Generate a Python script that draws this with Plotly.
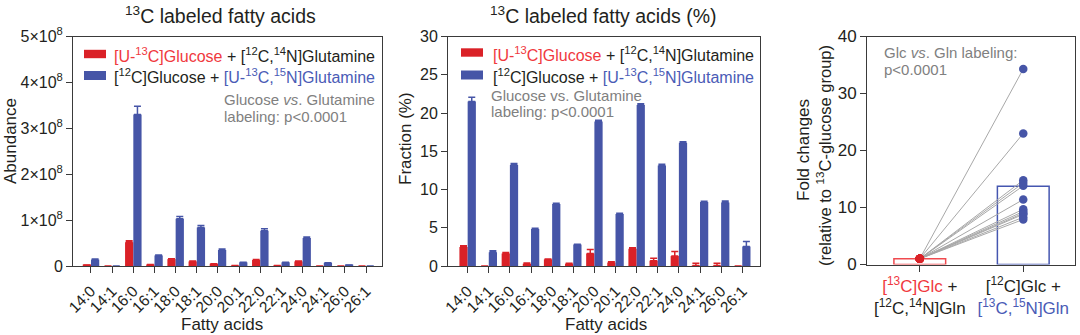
import numpy as np
import plotly.graph_objects as go

# ---------------- data ----------------
fatty_acids = ["14:0", "14:1", "16:0", "16:1", "18:0", "18:1", "20:0",
               "20:1", "22:0", "22:1", "24:0", "24:1", "26:0", "26:1"]

# Abundance
abund_glc = [2e6, 0, 5.2e7, 3e6, 1.5e7, 1.0e7, 5e6, 1e6, 1.3e7, 1e6, 1.0e7, 0, 0, 0]
abund_glc_err = [0, 0, 3e6, 0, 1e6, 1e6, 0, 0, 1e6, 0, 1e6, 0, 0, 0]
abund_gln = [1.4e7, 0, 3.30e8, 2.3e7, 1.03e8, 8.4e7, 3.5e7, 8e6, 7.7e7, 8e6, 6.1e7, 7e6, 2e6, 0]
abund_gln_err = [1e6, 0, 1.8e7, 1e6, 5e6, 4e6, 2e6, 0, 4e6, 0, 2e6, 0, 0, 0]

# Fraction (%)
frac_glc = [2.5, 0, 1.65, 0.3, 0.87, 0.3, 1.65, 0.45, 2.25, 0.7, 1.3, 0.05, 0.05, 0]
frac_glc_err = [0.15, 0, 0.1, 0.1, 0.05, 0.05, 0.5, 0.1, 0.15, 0.3, 0.6, 0.3, 0.3, 0]
frac_gln = [21.5, 1.8, 13.2, 4.85, 8.1, 2.8, 18.9, 6.8, 21.05, 13.15, 16.1, 8.35, 8.3, 2.55]
frac_gln_err = [0.55, 0.2, 0.2, 0.1, 0.1, 0.05, 0.15, 0.1, 0.15, 0.15, 0.15, 0.1, 0.2, 0.65]

# Fold changes (relative to 13C-glucose group)
fold_glc = [1.0] * 12
fold_gln = [34.3, 23.0, 14.8, 14.3, 13.8, 11.4, 9.7, 9.3, 9.0, 8.8, 8.3, 7.9]

abund_ticks = [0, 1e8, 2e8, 3e8, 4e8, 5e8]
abund_ticktext = ["0", "1×10<sup>8</sup>", "2×10<sup>8</sup>", "3×10<sup>8</sup>",
                  "4×10<sup>8</sup>", "5×10<sup>8</sup>"]
frac_ticks = [0, 5, 10, 15, 20, 25, 30]
fold_ticks = [0, 10, 20, 30, 40]

# ---------------- style ----------------
W, H = 1080, 335
RED = "#da2127"
BLUE = "#4655a7"
RED_T = "#f0393e"
BLUE_T = "#4a5bb6"
GREY_T = "#808080"
INK = "#231f20"
AX = "#3a3a3a"
FONT = "Liberation Sans, Arial, sans-serif"


def px(x):
    return x / W


def py(y):
    return 1 - y / H


fig = go.Figure()
xs = list(range(len(fatty_acids)))
BW = 0.39


def err(arr, color):
    return dict(type="data", array=arr, symmetric=False, arrayminus=[0] * len(arr),
                color=color, thickness=1.5, width=3.5)


# Panel 1 bars
fig.add_trace(go.Bar(x=xs, y=abund_glc, width=BW, offset=-BW, marker_color=RED,
                     marker_line_width=0, error_y=err(abund_glc_err, RED),
                     xaxis="x", yaxis="y", showlegend=False))
fig.add_trace(go.Bar(x=xs, y=abund_gln, width=BW, offset=0, marker_color=BLUE,
                     marker_line_width=0, error_y=err(abund_gln_err, BLUE),
                     xaxis="x", yaxis="y", showlegend=False))
# Panel 2 bars
fig.add_trace(go.Bar(x=xs, y=frac_glc, width=BW, offset=-BW, marker_color=RED,
                     marker_line_width=0, error_y=err(frac_glc_err, RED),
                     xaxis="x2", yaxis="y2", showlegend=False))
fig.add_trace(go.Bar(x=xs, y=frac_gln, width=BW, offset=0, marker_color=BLUE,
                     marker_line_width=0, error_y=err(frac_gln_err, BLUE),
                     xaxis="x2", yaxis="y2", showlegend=False))

# Panel 3: mean bars
fig.add_trace(go.Bar(x=[0], y=[float(np.mean(fold_glc))], width=0.5,
                     marker=dict(color="rgba(0,0,0,0)", line=dict(color="#f04a4f", width=1.5)),
                     xaxis="x3", yaxis="y3", showlegend=False))
fig.add_trace(go.Bar(x=[1], y=[float(np.mean(fold_gln))], width=0.5,
                     marker=dict(color="rgba(0,0,0,0)", line=dict(color="#4556b0", width=1.5)),
                     xaxis="x3", yaxis="y3", showlegend=False))
# paired lines
lx, ly = [], []
for a, b in zip(fold_glc, fold_gln):
    lx += [0, 1, None]
    ly += [a, b, None]
fig.add_trace(go.Scatter(x=lx, y=ly, mode="lines", line=dict(color="#a8a8a8", width=1),
                         xaxis="x3", yaxis="y3", showlegend=False, hoverinfo="skip"))
fig.add_trace(go.Scatter(x=[1] * len(fold_gln), y=fold_gln, mode="markers",
                         marker=dict(color=BLUE, size=8.5),
                         xaxis="x3", yaxis="y3", showlegend=False))
fig.add_trace(go.Scatter(x=[0] * len(fold_glc), y=fold_glc, mode="markers",
                         marker=dict(color=RED, size=8.5),
                         xaxis="x3", yaxis="y3", showlegend=False))

axis_common = dict(showline=True, linecolor=AX, linewidth=1, mirror=True,
                   ticks="outside", ticklen=6, tickwidth=1, tickcolor=AX,
                   showgrid=False, zeroline=False, automargin=False,
                   tickfont=dict(family=FONT, size=16, color=INK))
big_tick = {**axis_common, "tickfont": dict(family=FONT, size=17, color=INK)}
xcat_tick = {**axis_common, "tickfont": dict(family=FONT, size=15.5, color=INK)}

panel_y = [py(266), py(36.5)]
fig.update_layout(
    width=W, height=H,
    margin=dict(l=0, r=0, t=0, b=0, autoexpand=False),
    paper_bgcolor="white", plot_bgcolor="white",
    barmode="overlay",
    font=dict(family=FONT, color=INK),
    xaxis=dict(domain=[px(73), px(382)], range=[-0.85, 13.75], tickvals=xs,
               ticktext=fatty_acids, tickangle=-45, ticklabelstandoff=3,
               anchor="y", **xcat_tick),
    yaxis=dict(domain=panel_y, range=[0, 5e8], tickvals=abund_ticks,
               ticktext=abund_ticktext, anchor="x", **axis_common),
    xaxis2=dict(domain=[px(448), px(760)], range=[-0.93, 13.84], tickvals=xs,
                ticktext=fatty_acids, tickangle=-45, ticklabelstandoff=3,
                anchor="y2", **xcat_tick),
    yaxis2=dict(domain=panel_y, range=[0, 30], tickvals=frac_ticks, anchor="x2",
                **axis_common),
    xaxis3=dict(domain=[px(867), px(1075)], range=[-0.51, 1.5], tickvals=[0, 1],
                ticktext=[
                    f"<span style='color:{RED_T}'>[<sup>13</sup>C]Glc</span> +<br>[<sup>12</sup>C,<sup>14</sup>N]Gln",
                    f"[<sup>12</sup>C]Glc +<br><span style='color:{BLUE_T}'>[<sup>13</sup>C,<sup>15</sup>N]Gln</span>"],
                anchor="y3", **big_tick),
    yaxis3=dict(domain=[py(264.5), py(36.5)], range=[0, 40], tickvals=fold_ticks,
                anchor="x3", **big_tick),
)

ann = []


def text(x, y, s, size, color=INK, xanchor="left", angle=0):
    ann.append(dict(x=px(x), y=py(y), xref="paper", yref="paper", text=s,
                    showarrow=False, xanchor=xanchor, yanchor="middle",
                    textangle=angle, font=dict(family=FONT, size=size, color=color)))


# titles
text(220, 15, "<sup>13</sup>C labeled fatty acids", 19.5, xanchor="center")
text(603, 15, "<sup>13</sup>C labeled fatty acids (%)", 19.5, xanchor="center")
# axis titles
text(10, 141, "Abundance", 17, xanchor="center", angle=-90)
text(406, 139, "Fraction (%)", 17, xanchor="center", angle=-90)
text(803, 150, "Fold changes", 17, xanchor="center", angle=-90)
text(824, 156, "(relative to <sup>13</sup>C-glucose group)", 16.5, xanchor="center", angle=-90)
text(222, 324, "Fatty acids", 17, xanchor="center")
text(606, 324, "Fatty acids", 17, xanchor="center")

# legends
leg1 = f"<span style='color:{RED_T}'>[U-<sup>13</sup>C]Glucose</span> + [<sup>12</sup>C,<sup>14</sup>N]Glutamine"
leg2 = f"[<sup>12</sup>C]Glucose + <span style='color:{BLUE_T}'>[U-<sup>13</sup>C,<sup>15</sup>N]Glutamine</span>"
shapes = []
for (x0, yr, yb) in [(84, 54, 75.5), (461, 52.5, 75)]:
    shapes.append(dict(type="rect", xref="paper", yref="paper", x0=px(x0), x1=px(x0 + 22),
                       y0=py(yr - 4.2), y1=py(yr + 4.2), fillcolor=RED, line_width=0))
    shapes.append(dict(type="rect", xref="paper", yref="paper", x0=px(x0), x1=px(x0 + 22),
                       y0=py(yb - 4.5), y1=py(yb + 4.5), fillcolor=BLUE, line_width=0))
text(112, 55, leg1, 16)
text(112, 76.5, leg2, 16)
text(491, 53.5, leg1, 16)
text(491, 75.5, leg2, 16)

# stats notes
text(222, 100, "Glucose <i>vs</i>. Glutamine", 15, GREY_T)
text(222, 116, "labeling: p<0.0001", 15, GREY_T)
text(489, 95.5, "Glucose vs. Glutamine", 15, GREY_T)
text(489, 111.5, "labeling: p<0.0001", 15, GREY_T)
text(882, 52, "Glc <i>vs</i>. Gln labeling:", 15, GREY_T)
text(882, 70, "p<0.0001", 15, GREY_T)

fig.update_layout(annotations=ann, shapes=shapes)
fig.write_html("out.html")
